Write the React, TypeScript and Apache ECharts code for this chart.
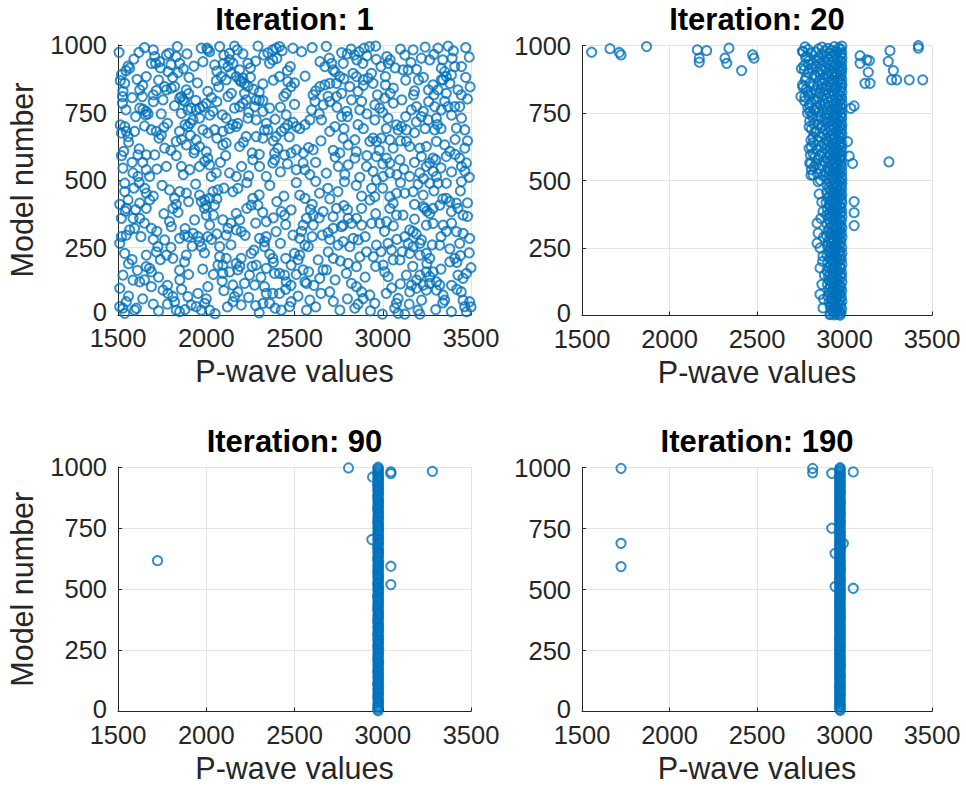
import React, { useEffect, useRef } from "react";
import * as echarts from "echarts";

const FONT = "'Liberation Sans', Arial, Helvetica, sans-serif";

// ---- tick labels / texts ----
const xTickValues = [1500, 2000, 2500, 3000, 3500];
const yTickValues = [0, 250, 500, 750, 1000];
const panelTitles = ["Iteration: 1", "Iteration: 20", "Iteration: 90", "Iteration: 190"];
const xAxisLabel = "P-wave values";
const yAxisLabel = "Model number";

// ---- Iteration 1 : [P-wave value, model number] ----
const iter1: number[][] = [
  [1506,973],[1619,973],[1700,982],[1708,957],[1774,963],[1789,969],[1836,994],[1891,967],[1972,988],[2004,988],[2019,975],[2009,982],[2076,994],[2132,969],[2176,982],[2208,967],[2293,996],[2325,963],[2349,971],[2377,982],[2396,988],[2415,994],[2430,979],[2491,988],
  [1557,922],[1566,914],[1689,932],[1713,932],[1736,938],[1830,957],[1849,932],[1981,938],[2047,926],[2098,932],[2132,945],[2151,932],[2123,920],[2189,908],[2236,932],[2359,932],[2377,945],[2476,920],[1783,901],[1840,898],[1902,880],
  [1513,868],[1538,858],[1608,873],[1660,883],[1764,846],[1774,834],[2057,868],[2085,883],[2113,871],[2170,883],[2189,871],[2208,877],[2198,864],[2217,858],[2236,846],[2321,856],[2415,883],[2462,864],[2481,846],
  [1528,828],[1525,809],[1623,834],[1638,809],[1717,831],[1755,797],[1802,840],[1821,846],[1859,809],[1868,797],[1849,803],[1877,791],[1887,834],[2009,828],[2142,821],[2123,809],[2217,821],[2226,797],[2268,836],[2283,797],[2321,794],[2453,821],
  [1525,784],[1623,766],[1642,762],[1660,754],[1670,745],[1657,741],[1745,745],[1859,747],[1896,760],[1915,766],[1943,760],[1962,766],[1981,772],[2000,784],[2038,754],[2091,741],[2113,729],[2160,766],[2189,772],[2208,784],[2274,772],[2321,754],[2359,766],[2453,741],
  [1513,704],[1538,698],[1547,680],[1519,674],[1557,661],[1594,680],[1689,686],[1717,680],[1745,667],[1732,655],[1849,680],[1896,698],[1909,710],[1925,723],[1962,729],[1981,686],[2009,674],[2047,686],[2094,680],[2170,698],[2179,710],[2236,729],[2283,723],[2340,710],[2349,686],[2321,655],[2396,661],[2425,680],[2444,692],[2462,704],[2491,713],[2510,698],
  [1532,606],[1613,593],[1660,593],[1708,593],[1764,618],[1830,643],[1887,630],[1943,649],[1962,624],[1934,612],[2094,630],[2113,637],[2189,624],[2226,661],[2283,661],[2387,600],[2406,618],[2444,593],[2481,600],[2510,612],
  [1528,544],[1585,526],[1613,513],[1660,538],[1679,513],[1774,550],[1859,550],[1906,538],[1962,550],[1991,569],[2009,581],[2019,556],[2057,526],[2028,513],[2132,526],[2170,513],[2264,575],[2302,550],[2340,513],[2377,563],[2387,575],[2510,538],
  [2644,938],[2697,951],[2710,932],[2767,972],[2799,967],[2776,932],[2840,963],[2866,975],[2894,988],[2925,994],[2960,996],[2853,945],[2887,932],[2963,947],[3023,957],[3042,945],[3032,932],[3125,963],[3172,982],[3219,951],[3266,945],[3313,988],[3370,996],[3393,951],[3446,920],[3115,908],[3144,908],[3191,910],[3332,914],[3351,901],[3360,883],[3341,871],[3389,889],[3408,920],
  [2672,920],[2719,908],[2757,883],[2738,858],[2700,858],[2672,852],[2644,846],[2767,821],[2738,809],[2832,895],[2851,883],[2889,871],[2917,877],[2936,895],[2945,858],[2860,828],[2813,846],[3015,883],[3015,852],[3042,821],[3108,797],[3174,815],[3202,871],[3259,834],[3285,852],[3313,834],[3332,871],[3360,821],[3426,834],[3445,815],[2606,815],[2616,791],
  [2663,778],[2597,760],[2587,723],[2653,723],[2823,797],[2880,791],[2870,760],[2795,754],[2767,735],[2955,778],[2983,766],[3011,803],[2955,723],[3030,729],[3078,704],[3106,698],[3087,686],[3134,686],[3162,760],[3191,772],[3229,754],[3219,735],[3257,723],[3294,772],[3332,760],[3304,729],[3351,791],[3370,772],[3408,772],[3436,772],[3446,729],[3417,692],[3465,686],[3294,686],
  [2606,612],[2549,563],[2559,538],[2587,520],[2700,680],[2729,698],[2776,655],[2804,630],[2842,649],[2757,600],[2748,550],[2804,556],[2785,520],[2842,581],[2908,550],[2927,643],[2945,655],[2964,643],[2992,655],[3040,649],[3059,618],[2964,587],[3021,581],[3040,563],[2945,532],[3002,513],[3040,526],[3097,575],[3134,643],[3153,624],[3210,618],[3247,624],[3219,587],[3266,563],[3285,581],[3247,550],[3285,532],[3304,643],[3351,630],[3380,606],[3360,587],[3436,581],[3465,618],[3474,563],[3446,550],[3465,532],[3304,513],[3153,513],[3210,526],
  [1538,488],[1538,457],[1557,426],[1547,395],[1519,358],[1547,296],[1519,290],[1566,315],[1594,321],[1623,414],[1660,451],[1679,426],[1651,469],[1660,395],[1689,321],[1623,358],[1585,358],[1764,278],[1726,253],[1660,222],[1717,234],[1774,222],[1679,173],[1689,160],[1660,179],[1538,228],[1528,148],[1510,99],[1585,129],[1623,123],[1689,105],[1510,31],[1528,25],[1538,6],[1547,49],[1594,18],[1604,25],
  [1755,92],[1783,80],[1811,68],[1821,49],[1830,18],[1849,12],[1896,68],[1915,37],[1943,31],[1972,18],[2019,18],[1991,43],[1953,80],[2009,105],[1792,463],[1821,432],[1849,457],[1887,451],[1811,395],[1792,346],[1802,327],[1849,284],[1877,296],[1896,290],[1925,302],[1934,352],[1953,290],[1962,272],[1972,253],[1877,197],[1849,166],[1811,210],[1887,222],
  [1962,444],[1991,426],[2000,407],[1972,420],[2019,432],[2038,457],[2066,463],[2047,407],[2000,370],[2019,333],[2009,290],[2076,253],[2094,352],[2113,296],[2123,321],[2076,216],[2066,185],[2094,185],[2113,210],[2132,160],[2094,154],[2151,111],[2179,86],[2160,68],[2151,49],[2198,37],[2217,117],[2245,148],[2274,111],[2330,105],[2340,80],[2321,43],[2359,43],[2377,80],[2415,80],[2425,18],[2472,31],[2481,49],
  [2170,376],[2189,352],[2198,309],[2170,315],[2151,457],[2179,469],[2264,432],[2255,407],[2293,407],[2340,346],[2396,309],[2425,383],[2444,370],[2481,389],[2491,296],[2500,228],[2302,284],[2330,272],[2340,290],[2330,253],[2377,210],[2415,154],[2453,123],[2481,185],[2255,228],[2198,210],[2170,191],[2179,167],[2283,185],[2340,173],[2387,154],[2444,148],
  [2530,444],[2559,432],[2642,451],[2689,469],[2746,457],[2783,494],[2937,469],[2927,426],[2955,438],[2964,500],[3040,438],[3078,451],[3059,414],[3125,451],[3172,457],[3229,444],[3266,488],[3313,488],[3360,488],[3446,494],[3360,432],[3379,420],[3417,414],[3426,395],[3455,370],[3389,383],[3323,407],[3285,395],[3266,376],[3238,395],[3229,401],
  [3247,333],[3285,339],[3342,333],[3417,309],[3455,302],[3492,284],[3436,265],[3153,315],[3172,309],[3144,265],[3172,253],[3210,265],[3219,278],[3323,259],[3115,370],[3040,395],[3078,370],[3021,346],[2983,339],[2937,339],[2880,333],[2851,358],[2823,339],[2776,333],[2804,358],[2719,364],[2738,395],[2662,383],[2606,370],[2568,358],[2549,333],[2606,333],[2657,296],[2719,321],[2766,327],
  [2530,284],[2559,259],[2578,253],[2530,222],[2549,167],[2634,204],[2662,167],[2643,136],[2559,123],[2568,117],[2691,234],[2747,259],[2776,272],[2833,284],[2861,278],[2813,253],[2908,234],[2946,216],[2964,259],[3030,265],[3049,241],[3059,204],[3002,185],[3097,204],[3011,160],[3030,142],[2851,179],[2804,191],[2794,154],[2823,117],[2851,105],[2880,86],[2927,74],[2955,43],[2889,61],[2842,25],[2757,18],[2700,86],[2681,167],[2587,55],[2568,18],
  [2998,3],[3087,61],[3078,43],[3068,25],[3087,6],[3125,3],[3200,18],[3210,3],[3134,148],[3163,111],[3191,129],[3210,148],[3247,160],[3266,142],[3229,111],[3247,92],[3266,117],[3304,123],[3285,160],[3323,111],[3342,74],[3351,55],[3380,197],[3408,210],[3426,148],[3455,136],[3474,154],[3445,86],[3455,55],[3492,49],[3464,31],[3474,12],[3389,12],[3304,92],[3153,86],[3191,99],[3153,228],[3210,222],[3247,228],[3266,210],[3125,290],
  // partly hidden (overlapping) circles, estimated
  [1545,905],[1590,948],[1650,990],[1740,915],[1800,927],[1870,912],[1930,922],[2060,903],[2100,962],[2160,996],[2250,915],[2280,940],[2400,950],[2460,905],[2540,975],[2600,990],[2680,995],[2730,900],[2820,985],[2910,960],[2990,920],[3070,915],[3100,985],[3160,935],[3240,992],[3290,965],[3340,945],[3400,978],[3470,990],[3490,955],
  [1520,890],[1580,805],[1640,850],[1700,815],[1730,870],[1810,880],[1900,820],[1950,860],[2030,805],[2070,845],[2140,895],[2250,880],[2300,825],[2380,870],[2440,810],[2500,860],[2560,885],[2620,830],[2690,810],[2780,875],[2890,850],[2970,815],[3060,840],[3130,870],[3180,830],[3230,880],[3290,815],[3380,858],[3470,880],[3495,845],
  [1545,760],[1600,735],[1700,790],[1780,710],[1820,775],[1880,705],[1940,795],[2020,740],[2060,790],[2150,705],[2240,750],[2300,795],[2390,725],[2420,770],[2500,780],[2560,705],[2640,745],[2700,790],[2740,770],[2800,735],[2860,705],[2910,745],[3000,750],[3060,785],[3130,735],[3190,715],[3260,790],[3310,705],[3390,740],[3480,800],
  [1560,640],[1620,615],[1650,700],[1760,695],[1800,610],[1860,650],[1910,665],[2000,605],[2060,655],[2130,690],[2210,640],[2260,600],[2330,685],[2380,645],[2470,660],[2530,690],[2580,620],[2650,645],[2720,610],[2780,690],[2850,605],[2890,690],[2980,610],[3020,690],[3100,645],[3180,675],[3240,690],[3330,690],[3410,650],[3480,645],
  [1520,590],[1580,565],[1640,565],[1720,540],[1830,590],[1870,520],[1930,600],[2080,565],[2110,590],[2200,550],[2240,515],[2300,595],[2420,530],[2460,560],[2550,600],[2620,565],[2680,525],[2730,585],[2870,510],[2910,590],[3000,560],[3080,520],[3120,540],[3180,565],[3230,505],[3300,575],[3330,545],[3390,530],[3410,595],[3490,510],
  [1510,410],[1590,470],[1620,490],[1700,440],[1750,480],[1830,410],[1900,420],[1940,485],[2060,430],[2100,470],[2230,490],[2300,445],[2360,480],[2400,420],[2440,440],[2510,490],[2600,410],[2620,495],[2700,430],[2780,405],[2850,480],[2880,440],[3000,470],[3100,490],[3180,410],[3200,485],[3290,460],[3340,430],[3440,460],[3480,415],
  [1540,385],[1600,390],[1650,340],[1720,310],[1760,375],[1840,380],[1880,320],[1990,395],[2040,370],[2060,300],[2140,340],[2230,395],[2280,340],[2320,380],[2380,360],[2450,335],[2540,310],[2590,390],[2640,360],[2690,305],[2800,390],[2880,395],[2960,375],[3010,310],[3060,330],[3180,355],[3250,385],[3360,310],[3390,340],[3480,365],
  [1510,265],[1580,205],[1630,290],[1700,280],[1740,205],[1800,250],[1920,255],[1990,230],[2030,280],[2140,260],[2220,295],[2270,240],[2360,225],[2420,265],[2450,210],[2520,205],[2600,290],[2700,280],[2720,210],[2870,215],[2900,290],[2990,235],[3080,280],[3110,235],[3190,300],[3280,260],[3330,290],[3380,245],[3440,220],[3490,230],
  [1560,190],[1610,165],[1650,130],[1730,140],[1780,110],[1850,130],[1900,150],[1980,170],[2040,150],[2090,125],[2190,180],[2260,180],[2310,140],[2380,195],[2480,110],[2510,150],[2580,160],[2610,110],[2730,130],[2760,200],[2900,140],[2960,180],[3050,100],[3100,115],[3170,180],[3250,190],[3330,170],[3390,110],[3420,195],[3500,175],
  [1560,70],[1640,60],[1700,40],[1730,15],[1780,40],[1860,95],[1880,20],[2000,60],[2050,5],[2100,90],[2120,30],[2240,65],[2280,35],[2300,8],[2390,25],[2450,95],[2520,70],[2620,30],[2650,80],[2720,50],[2800,60],[2860,40],[2930,15],[3020,80],[3150,40],[3220,55],[3300,20],[3340,45],[3420,95],[3500,30]
];

// ---- Iteration 20 ----
const iter20Outliers: number[][] = [
  [1555,975],[1660,988],[1713,974],[1723,965],[1869,996],[2159,984],[2170,953],[2170,938],[2212,981],[2317,953],[2327,934],[2340,990],[2412,907],[2475,965],[2483,953],
  [3089,962],[3089,934],[3127,947],[3142,944],[3136,901],[3117,860],[3146,860],[3260,981],[3250,941],[3279,907],[3269,873],[3298,873],[3370,873],[3422,999],[3422,990],[3447,873],[3254,569],
  [3036,767],[3055,776],[3017,644],[3027,590],[3046,563],[3055,422],[3055,381],[3055,333]
];
const iter20Shoulder: number[][] = [
  [2763,977],[2754,914],[2763,846],[2773,810],[2801,720],[2811,690],[2820,661],[2811,624],[2820,600],[2801,565],[2811,540],[2760,978],[2770,910],[2760,854],[2751,811],[2789,749],[2798,699],[2808,650],[2798,619],[2808,563],[2808,520],[2785,960],[2795,930],[2780,880],[2790,830],[2800,780],[2815,745],[2805,595],
  [2775,995],[2792,985],[2810,972],[2778,955],[2800,945],[2822,935],[2768,925],[2812,915],[2790,900],[2828,890],[2775,870],[2805,862],[2823,850],[2782,838],[2812,825],[2795,815],[2830,800],[2772,795],[2808,788],[2790,770],[2826,762],[2803,755],[2818,735],[2825,710],[2830,680],[2822,640],[2830,585],[2825,550],
  [2820,521],[2849,496],[2877,385],[2843,342],[2849,305],[2843,268],[2860,250],[2877,220],[2860,176],[2871,115],[2860,78],[2877,28],[2917,3],[2855,450],[2870,420],[2865,360],[2880,290],[2875,200],[2885,150],[2880,60]
];
const iter20Core: number[][] = [
  [2985,998],[2942,996],[2871,994],[2968,991],[2905,989],[2850,987],[2980,985],[2926,982],[2889,980],[2956,978],[2837,975],[2984,973],[2915,971],[2868,968],[2947,966],[2978,963],[2895,961],[2932,959],[2855,956],[2985,954],[2960,951],[2910,949],[2842,947],[2975,944],[2880,942],[2938,940],[2984,937],[2900,935],[2860,933],[2952,930],[2920,928],[2981,925],[2835,923],[2965,921],[2888,918],[2944,916],[2985,914],[2870,911],[2912,909],[2972,907],[2848,904],[2935,902],[2983,900],[2897,897],[2958,895],[2925,893],[2862,890],[2980,888],[2906,886],[2945,883],[2838,881],[2970,879],[2885,876],[2984,874],[2930,872],[2855,869],[2962,867],[2915,865],[2978,862],[2875,860],[2940,858],[2985,855],[2845,853],[2900,851],[2955,848],[2922,846],[2982,844],[2868,841],[2948,839],[2893,837],[2975,834],[2835,832],[2935,830],[2985,827],[2910,825],[2858,823],[2965,820],[2882,818],[2942,816],[2980,813],[2918,811],[2850,809],[2958,806],[2898,804],[2984,802],[2872,799],[2930,797],[2972,795],[2842,792],[2908,790],[2952,788],[2985,785],[2888,783],[2938,781],[2862,778],[2976,776],[2915,774],[2960,771],[2840,769],[2983,767],[2900,764],[2945,762],[2878,760],[2970,757],[2925,755],[2852,753],[2985,750],[2912,748],[2955,746],[2895,743],[2978,741],[2935,739],[2865,736],[2948,734],[2984,732],[2905,729],[2845,727],[2965,725],[2920,722],[2880,720],[2980,718],[2940,715],[2898,713],[2958,711],[2855,708],[2985,706],[2930,704],[2912,701],[2972,699],[2868,697],[2945,694],[2983,692],[2890,690],[2925,687],[2962,685],[2840,683],[2978,680],[2905,678],[2950,676],[2875,673],[2985,671],[2935,669],[2918,666],[2968,664],[2858,662],[2942,659],[2982,657],[2895,655],[2928,652],[2960,650],[2848,648],[2976,645],[2910,643],[2952,641],[2882,638],[2985,636],[2938,634],[2902,631],[2970,629],[2865,627],[2948,624],[2984,622],[2920,620],[2890,617],[2958,615],[2842,613],[2980,610],[2932,608],[2908,606],[2965,603],[2872,601],[2945,599],[2985,596],[2915,594],[2860,592],[2955,589],[2978,587],[2898,585],[2935,582],[2850,580],[2972,578],[2925,575],[2983,573],[2885,571],[2948,568],[2910,566],[2962,564],[2838,561],[2980,559],[2930,557],[2870,554],[2952,552],[2985,550],[2905,547],[2940,545],[2855,543],[2975,540],[2918,538],[2960,536],[2890,533],[2984,531],[2935,529],[2845,526],[2968,524],[2912,522],[2950,519],[2878,517],[2982,515],[2928,512],[2958,510],[2900,508],[2985,505],[2940,503],[2862,501],
  [2972,498],[2915,495],[2948,492],[2985,490],[2928,487],[2900,484],[2962,482],[2980,479],[2938,476],[2910,473],[2955,471],[2984,468],[2922,465],[2968,462],[2945,460],[2898,457],[2978,454],[2932,451],[2958,449],[2985,446],[2915,443],[2950,440],[2970,438],[2905,435],[2940,432],[2982,429],[2925,427],[2962,424],[2948,421],[2895,418],[2985,416],[2935,413],[2912,410],[2972,407],[2955,405],[2920,402],[2980,399],[2942,396],[2902,394],[2965,391],[2930,388],[2984,385],[2950,383],[2915,380],[2975,377],[2938,374],[2898,372],[2960,369],[2985,366],[2925,363],[2945,361],[2908,358],[2970,355],[2935,352],[2982,350],[2952,347],[2918,344],[2965,341],[2900,339],[2940,336],[2978,333],[2928,330],[2958,328],[2985,325],[2912,322],[2948,319],[2972,317],[2935,314],[2905,311],[2962,308],[2982,306],[2922,303],[2945,300],[2968,297],[2898,295],[2955,292],[2985,289],[2932,286],[2915,284],[2975,281],[2942,278],[2960,275],[2908,273],[2980,270],[2925,267],[2950,264],[2970,262],[2902,259],[2938,256],[2984,253],[2918,251],[2958,248],[2945,245],[2930,242],[2975,240],[2910,237],[2965,234],[2985,231],[2922,229],[2948,226],[2900,223],[2978,220],[2938,218],[2955,215],[2915,212],[2970,209],[2982,207],[2928,204],[2945,201],[2905,198],[2962,196],[2935,193],[2985,190],[2920,187],[2952,185],[2972,182],[2910,179],[2940,176],[2980,174],[2928,171],[2958,168],[2900,165],[2968,163],[2945,160],[2984,157],[2918,154],[2935,152],[2975,149],[2908,146],[2955,143],[2982,141],[2925,138],[2948,135],[2965,132],[2912,130],[2938,127],[2985,124],[2930,121],[2960,119],[2902,116],[2972,113],[2945,110],[2920,108],[2980,105],[2935,102],[2958,99],[2910,97],[2968,94],[2984,91],[2928,88],[2950,86],[2915,83],[2975,80],[2940,77],[2962,75],[2905,72],[2982,69],[2932,66],[2955,64],[2922,61],[2970,58],[2945,55],[2985,53],[2912,50],[2938,47],[2965,44],[2928,42],[2978,39],[2950,36],[2918,33],[2960,31],[2940,28],[2984,25],[2925,22],[2958,20],[2970,17],[2935,14],[2948,11],[2980,9],[2922,6],[2962,4],[2942,2],[2975,1]
];

// ---- Iteration 90 ----
const iter90Outliers: number[][] = [
  [1724,617],[2806,996],[3281,982],[3046,980],[3046,973],[3046,594],[3046,519],[2942,959],[2938,703]
];
const iter90Column: number[][] = [
  [2974,999],[2972,993],[2976,988],[2973,981],[2975,975],[2971,970],[2977,963],[2974,957],[2972,952],[2975,945],[2973,939],[2976,934],[2971,927],[2974,921],[2977,916],[2972,909],[2975,903],[2973,898],[2976,891],[2974,885],[2971,880],[2975,873],[2972,867],[2977,862],[2974,855],[2973,849],[2976,844],[2972,837],[2975,831],[2971,826],[2974,819],[2977,813],[2973,808],[2975,801],[2972,795],[2976,790],[2974,783],[2971,777],[2975,772],[2973,765],[2977,759],[2972,754],[2974,747],[2976,741],[2973,736],[2975,729],[2971,723],[2974,718],[2977,711],[2972,705],[2975,700],[2973,693],[2976,687],[2974,682],[2971,675],[2975,669],[2972,664],[2977,657],[2974,651],[2973,646],[2976,639],[2972,633],[2975,628],[2971,621],[2974,615],[2977,610],[2973,603],[2975,597],[2972,592],[2976,585],[2974,579],[2971,574],[2975,567],[2973,561],[2977,556],[2972,549],[2974,543],[2976,538],[2973,531],[2975,525],[2971,520],[2974,513],[2977,507],[2972,502],[2975,495],[2973,489],[2976,484],[2974,477],[2971,471],[2975,466],[2972,459],[2977,453],[2974,448],[2973,441],[2976,435],[2972,430],[2975,423],[2971,417],[2974,412],[2977,405],[2973,399],[2975,394],[2972,387],[2976,381],[2974,376],[2971,369],[2975,363],[2973,358],[2977,351],[2972,345],[2974,340],[2976,333],[2973,327],[2975,322],[2971,315],[2974,309],[2977,304],[2972,297],[2975,291],[2973,286],[2976,279],[2974,273],[2971,268],[2975,261],[2972,255],[2977,250],[2974,243],[2973,237],[2976,232],[2972,225],[2975,219],[2971,214],[2974,207],[2977,201],[2973,196],[2975,189],[2972,183],[2976,178],[2974,171],[2971,165],[2975,160],[2973,153],[2977,147],[2972,142],[2974,135],[2976,129],[2973,124],[2975,117],[2971,111],[2974,106],[2977,99],[2972,93],[2975,88],[2973,81],[2976,75],[2974,70],[2971,63],[2975,57],[2972,52],[2977,45],[2974,39],[2973,34],[2976,27],[2972,21],[2975,16],[2971,9],[2974,3]
];

// ---- Iteration 190 ----
const iter190Outliers: number[][] = [
  [1723,996],[1723,689],[1723,594],[2818,996],[2818,978],[2927,976],[3050,982],[2927,751],[3050,505],[2993,689],[2946,648],[2946,512]
];
const iter190Column: number[][] = [
  [2975,999],[2973,994],[2976,988],[2972,983],[2974,977],[2977,971],[2971,966],[2975,960],[2973,955],[2976,949],[2972,943],[2974,938],[2977,932],[2971,926],[2975,921],[2973,915],[2976,909],[2972,904],[2974,898],[2977,893],[2971,887],[2975,881],[2973,876],[2976,870],[2972,864],[2974,859],[2977,853],[2971,848],[2975,842],[2973,836],[2976,831],[2972,825],[2974,819],[2977,814],[2971,808],[2975,803],[2973,797],[2976,791],[2972,786],[2974,780],[2977,774],[2971,769],[2975,763],[2973,758],[2976,752],[2972,746],[2974,741],[2977,735],[2971,729],[2975,724],[2973,718],[2976,713],[2972,707],[2974,701],[2977,696],[2971,690],[2975,684],[2973,679],[2976,673],[2972,668],[2974,662],[2977,656],[2971,651],[2975,645],[2973,639],[2976,634],[2972,628],[2974,623],[2977,617],[2971,611],[2975,606],[2973,600],[2976,594],[2972,589],[2974,583],[2977,578],[2971,572],[2975,566],[2973,561],[2976,555],[2972,549],[2974,544],[2977,538],[2971,533],[2975,527],[2973,521],[2976,516],[2972,510],[2974,504],[2977,499],[2971,493],[2975,488],[2973,482],[2976,476],[2972,471],[2974,465],[2977,459],[2971,454],[2975,448],[2973,443],[2976,437],[2972,431],[2974,426],[2977,420],[2971,414],[2975,409],[2973,403],[2976,398],[2972,392],[2974,386],[2977,381],[2971,375],[2975,369],[2973,364],[2976,358],[2972,353],[2974,347],[2977,341],[2971,336],[2975,330],[2973,324],[2976,319],[2972,313],[2974,308],[2977,302],[2971,296],[2975,291],[2973,285],[2976,279],[2972,274],[2974,268],[2977,263],[2971,257],[2975,251],[2973,246],[2976,240],[2972,234],[2974,229],[2977,223],[2971,218],[2975,212],[2973,206],[2976,201],[2972,195],[2974,189],[2977,184],[2971,178],[2975,173],[2973,167],[2976,161],[2972,156],[2974,150],[2977,144],[2971,139],[2975,133],[2973,128],[2976,122],[2972,116],[2974,111],[2977,105],[2971,99],[2975,94],[2973,88],[2976,83],[2972,77],[2974,71],[2977,66],[2971,60],[2975,54],[2973,49],[2976,43],[2972,38],[2974,32],[2977,26],[2971,21],[2975,15],[2973,9],[2976,4]
];

const panelData: number[][][] = [
  iter1,
  [...iter20Outliers, ...iter20Shoulder, ...iter20Core],
  [...iter90Outliers, ...iter90Column],
  [...iter190Outliers, ...iter190Column],
];

// ---- layout (pixels) ----
const panels = [
  { left: 118, top: 45, width: 353, height: 270 },
  { left: 582, top: 45.5, width: 350, height: 270 },
  { left: 118, top: 467, width: 353, height: 244.5 },
  { left: 582, top: 467.5, width: 350, height: 244 },
];

const AXIS_COLOR = "#262626";
const GRID_COLOR = "#e3e3e3";
const MARK_COLOR = "#0072BD";
const TICK_FONT_SIZE = 25.5;

export default function App() {
  const ref = useRef<HTMLDivElement>(null);

  useEffect(() => {
    if (!ref.current) return;
    const chart = echarts.init(ref.current, undefined, { renderer: "svg" });

    const xMin = xTickValues[0];
    const xMax = xTickValues[xTickValues.length - 1];
    const xInt = xTickValues[1] - xTickValues[0];
    const yMin = yTickValues[0];
    const yMax = yTickValues[yTickValues.length - 1];
    const yInt = yTickValues[1] - yTickValues[0];

    const grid = panels.map((p) => ({ ...p, containLabel: false }));

    const commonAxis = {
      axisLine: { show: true, onZero: false, lineStyle: { color: AXIS_COLOR, width: 1 } },
      axisTick: { show: true, inside: true, length: 4, lineStyle: { color: AXIS_COLOR, width: 1 } },
      splitLine: { show: true, lineStyle: { color: GRID_COLOR, width: 1 } },
    };

    const labelStyle = {
      show: true,
      fontSize: TICK_FONT_SIZE,
      color: AXIS_COLOR,
      fontFamily: FONT,
      showMinLabel: true,
      showMaxLabel: true,
    };

    const xAxis = panels.map((_, i) => ({
      type: "value",
      gridIndex: i,
      min: xMin,
      max: xMax,
      interval: xInt,
      ...commonAxis,
      axisLabel: {
        ...labelStyle,
        margin: 13,
        lineHeight: 20,
        formatter: (v: number) => String(v),
      },
    }));

    const yAxis = panels.map((_, i) => ({
      type: "value",
      gridIndex: i,
      min: yMin,
      max: yMax,
      interval: yInt,
      ...commonAxis,
      axisLabel: {
        ...labelStyle,
        margin: 11,
        lineHeight: 16,
        // the bottom "0" sits slightly above the axis corner, clear of the x labels
        formatter: (v: number) => (v === yMin ? `{z|${v}}` : String(v)),
        rich: {
          z: {
            fontSize: TICK_FONT_SIZE,
            fontFamily: FONT,
            color: AXIS_COLOR,
            lineHeight: 16,
            padding: [0, 0, 6, 0],
          },
        },
      },
    }));

    const series = panelData.map((data, i) => ({
      type: "scatter",
      xAxisIndex: i,
      yAxisIndex: i,
      data,
      symbol: "circle",
      symbolSize: 9.2,
      clip: false,
      large: false,
      silent: true,
      itemStyle: { color: "rgba(0,0,0,0)", borderColor: MARK_COLOR, borderWidth: 2 },
      emphasis: { disabled: true },
    }));

    const graphic: any[] = [];
    panels.forEach((p, i) => {
      const cx = p.left + p.width / 2;
      const cy = p.top + p.height / 2;
      graphic.push({
        type: "text",
        x: cx,
        y: p.top - 26,
        style: {
          text: panelTitles[i],
          font: `bold 31px ${FONT}`,
          fill: "#000000",
          align: "center",
          verticalAlign: "middle",
          textAlign: "center",
          textVerticalAlign: "middle",
        },
      });
      graphic.push({
        type: "text",
        x: cx,
        y: p.top + p.height + 56,
        style: {
          text: xAxisLabel,
          font: `30.5px ${FONT}`,
          fill: AXIS_COLOR,
          align: "center",
          verticalAlign: "middle",
          textAlign: "center",
          textVerticalAlign: "middle",
        },
      });
      if (i === 0 || i === 2) {
        graphic.push({
          type: "text",
          x: 22,
          y: cy,
          rotation: Math.PI / 2,
          style: {
            text: yAxisLabel,
            font: `30.5px ${FONT}`,
            fill: AXIS_COLOR,
            align: "center",
            verticalAlign: "middle",
            textAlign: "center",
            textVerticalAlign: "middle",
          },
        });
      }
    });

    chart.setOption({
      animation: false,
      backgroundColor: "#ffffff",
      grid,
      xAxis,
      yAxis,
      series,
      graphic,
    } as any);

    return () => chart.dispose();
  }, []);

  return (
    <div
      ref={ref}
      style={{ position: "absolute", left: 0, top: 0, width: 966, height: 788 }}
    />
  );
}
